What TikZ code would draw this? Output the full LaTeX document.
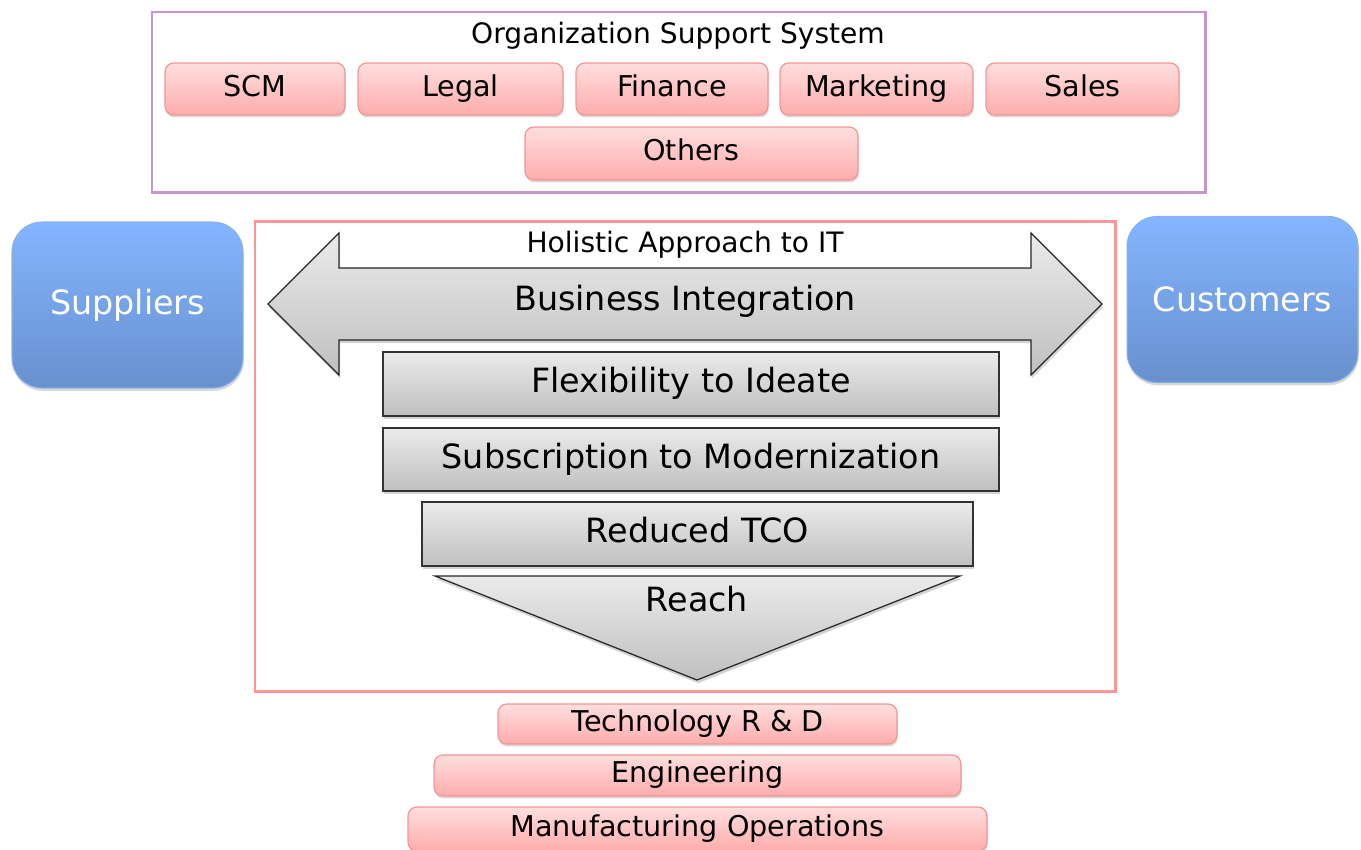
\documentclass[tikz,border=0pt]{standalone}
\usepackage{fontspec}
\setmainfont{DejaVu Sans}
\usetikzlibrary{shadows}

\definecolor{orgframe}{RGB}{196,150,204}
\definecolor{itframe}{RGB}{255,150,150}
\definecolor{pinktop}{RGB}{255,222,222}
\definecolor{pinkbot}{RGB}{255,172,172}
\definecolor{pinkline}{RGB}{242,150,150}
\definecolor{bluetop}{RGB}{132,181,255}
\definecolor{bluebot}{RGB}{104,144,206}
\definecolor{blueline}{RGB}{140,176,232}

\tikzset{
  pinkbtn/.style={rounded corners=5pt, draw=pinkline, line width=0.7pt,
    top color=pinktop, bottom color=pinkbot, inner sep=0pt,
    text height=12.4pt, text depth=3.9pt,
    drop shadow={shadow xshift=0.4pt, shadow yshift=-1.4pt, opacity=0.3},
    font=\fontsize{16.3}{18}\selectfont},
  bluebox/.style={rounded corners=17pt, draw=blueline, line width=0.6pt,
    top color=bluetop, bottom color=bluebot, text=white, inner sep=0pt,
    minimum width=4.62cm, minimum height=3.32cm,
    drop shadow={shadow xshift=0.4pt, shadow yshift=-1.6pt, opacity=0.3},
    font=\fontsize{19}{22}\selectfont},
  graybox/.style={draw=black!80, line width=0.7pt,
    top color=black!8, bottom color=black!25, inner sep=0pt,
    minimum height=1.28cm, text height=14.4pt, text depth=4.6pt,
    drop shadow={shadow xshift=0.6pt, shadow yshift=-1.8pt, opacity=0.35},
    font=\fontsize{19}{22}\selectfont},
}

\begin{document}
\begin{tikzpicture}[x=0.02cm, y=-0.02cm]
    % picture area in pixel units, y running downwards
    \useasboundingbox (0,0) rectangle (1361,849);
    \clip (0,0) rectangle (1361,849);

    % Organization support system
    \draw[orgframe, line width=1.7pt] (152,12) rectangle (1205,192);
    \node[font=\fontsize{16}{18}\selectfont] (orgtitle) at (678,36) {Organization Support System};
    \node[pinkbtn, minimum width=3.6cm,  minimum height=1.04cm] (scm)   at (255,89)    {SCM};
    \node[pinkbtn, minimum width=4.1cm,  minimum height=1.04cm] (legal) at (460.5,89)  {Legal};
    \node[pinkbtn, minimum width=3.84cm, minimum height=1.04cm] (fin)   at (672,89)    {Finance};
    \node[pinkbtn, minimum width=3.86cm, minimum height=1.04cm] (mkt)   at (876.5,89)  {Marketing};
    \node[pinkbtn, minimum width=3.86cm, minimum height=1.04cm] (sales) at (1082.5,89) {Sales};
    \node[pinkbtn, minimum width=6.66cm, minimum height=1.06cm] (others) at (691.5,153.5) {Others};

    % Suppliers and customers on both sides
    \node[bluebox] (suppliers) at (127.5,305)   {Suppliers};
    \node[bluebox] (customers) at (1242.5,299.5) {Customers};

    % Holistic approach frame
    \draw[itframe, line width=1.7pt] (255,221) rectangle (1115,691);

    % Double arrow for business integration
    \path[draw=black!85, line width=0.7pt, top color=black!8, bottom color=black!25,
      drop shadow={shadow xshift=0.6pt, shadow yshift=-1.8pt, opacity=0.35}]
      (268,304) -- (339,233) -- (339,268) -- (1031,268) -- (1031,233)
      -- (1102,304) -- (1031,375) -- (1031,340) -- (339,340) -- (339,375) -- cycle;
    \node[font=\fontsize{16}{18}\selectfont] (holistic) at (685,245) {Holistic Approach to IT};
    \node[font=\fontsize{19}{22}\selectfont] (busint) at (685,301) {Business Integration};

    % Stack of benefits
    \node[graybox, minimum width=12.32cm] (flex) at (691,384)   {Flexibility to Ideate};
    \node[graybox, minimum width=12.32cm, minimum height=1.26cm] (subs) at (691,459.5) {Subscription to Modernization};
    \node[graybox, minimum width=11.02cm] (tco)  at (697.5,534) {Reduced TCO};

    % Reach funnel
    \path[draw=black!85, line width=0.7pt, top color=black!8, bottom color=black!25,
      drop shadow={shadow xshift=0.6pt, shadow yshift=-1.8pt, opacity=0.35}]
      (435,576) -- (960,576) -- (697,680) -- cycle;
    \node[font=\fontsize{19}{22}\selectfont] (reach) at (697,599) {Reach};

    % Foundation layers
    \node[pinkbtn, minimum width=7.98cm,  minimum height=0.8cm]  (techrd) at (697.5,724)   {Technology R \& D};
    \node[pinkbtn, minimum width=10.54cm, minimum height=0.82cm] (eng)    at (697.5,775.5) {Engineering};
    \node[pinkbtn, minimum width=11.58cm, minimum height=0.88cm] (mfg)    at (697.5,829)   {Manufacturing Operations};
\end{tikzpicture}
\end{document}
